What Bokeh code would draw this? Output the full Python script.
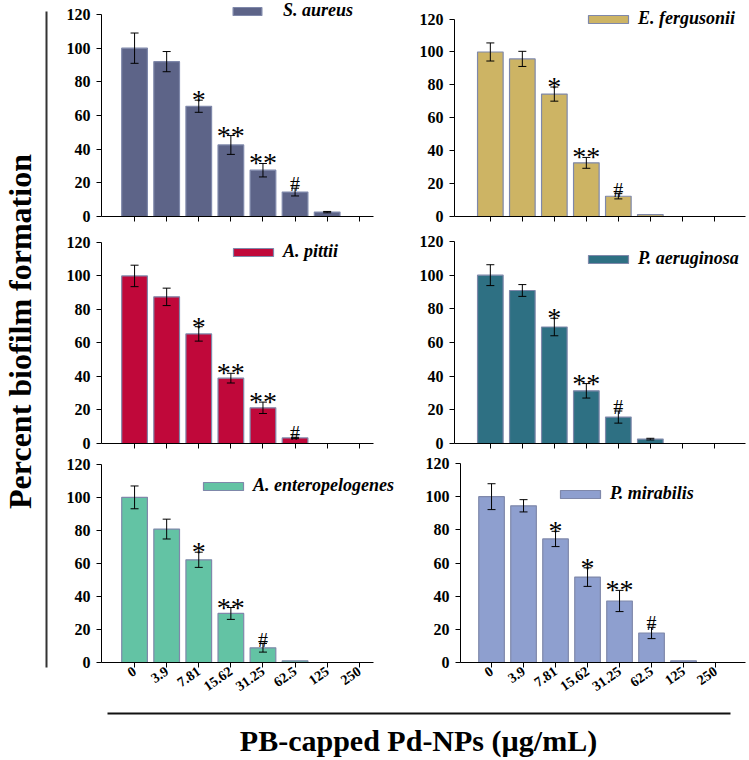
import math
from bokeh.plotting import figure
from bokeh.models import (ColumnDataSource, Range1d, FixedTicker, Whisker, TeeHead,
                          Legend, LegendItem)
from bokeh.layouts import row, column
from bokeh.embed import file_html
from bokeh.resources import INLINE
from bokeh.core.properties import value

# ---------------- data ----------------
concentrations = ["0", "3.9", "7.81", "15.62", "31.25", "62.5", "125", "250"]

s_aureus = [100, 92, 65.5, 42.5, 27.5, 14.5, 2.6, 0]
s_aureus_err = [9, 6, 3.6, 5.6, 4, 2.3, 0.4, 0]
s_aureus_sig = ["", "", "*", "**", "**", "#", "", ""]

e_fergusonii = [100, 95.8, 74.4, 32.6, 12.3, 1.2, 0, 0]
e_fergusonii_err = [5.5, 4.6, 4.3, 3.3, 1.6, 0, 0, 0]
e_fergusonii_sig = ["", "", "*", "**", "#", "", "", ""]

a_pittii = [100, 87.5, 65.4, 39.0, 21.3, 3.3, 0, 0]
a_pittii_err = [6.4, 5.2, 4.3, 2.9, 3.4, 0.4, 0, 0]
a_pittii_sig = ["", "", "*", "**", "**", "#", "", ""]

p_aeruginosa = [100, 90.9, 69.2, 31.3, 15.7, 2.6, 0, 0]
p_aeruginosa_err = [6.2, 3.5, 5.2, 4.3, 3.6, 0.5, 0, 0]
p_aeruginosa_sig = ["", "", "*", "**", "#", "", "", ""]

a_enteropelogenes = [100, 80.8, 62.2, 29.7, 8.9, 1.0, 0, 0]
a_enteropelogenes_err = [6.9, 6.0, 4.6, 3.6, 2.6, 0, 0, 0]
a_enteropelogenes_sig = ["", "", "*", "**", "#", "", "", ""]

p_mirabilis = [100, 94.5, 74.5, 51.5, 37.1, 17.8, 1.0, 0]
p_mirabilis_err = [7.8, 3.7, 4.6, 5.6, 6.4, 3.4, 0, 0]
p_mirabilis_sig = ["", "", "*", "*", "**", "#", "", ""]

y_ticks = [0, 20, 40, 60, 80, 100, 120]

SERIF = "Liberation Serif"
EDGE = "#7f88aa"


def panel(name, vals, errs, sigs, fill, width, height, bl, y0px, y120px, xstart,
          px_per_cat, xbound_end, show_labels, leg_loc, glyph_w, standoff):
    idx = list(range(len(concentrations)))
    frame_w = width - bl
    xend = xstart + frame_w / px_per_cat
    yend = 120.0 * y0px / (y0px - y120px)
    src = ColumnDataSource(dict(x=idx, top=vals))
    p = figure(width=width, height=height, x_range=Range1d(xstart, xend),
               y_range=Range1d(0, yend), toolbar_location=None, output_backend="svg",
               min_border_left=bl, min_border_right=0, min_border_top=0,
               min_border_bottom=height - y0px)
    p.outline_line_color = None
    p.grid.visible = False
    r = p.vbar(x="x", top="top", width=0.8, source=src, fill_color=fill,
               line_color=EDGE, line_width=1.2)

    ex = [i for i, e in zip(idx, errs) if e > 0]
    eu = [v + e for v, e in zip(vals, errs) if e > 0]
    el = [v - e for v, e in zip(vals, errs) if e > 0]
    esrc = ColumnDataSource(dict(x=ex, upper=eu, lower=el))
    w = Whisker(base="x", upper="upper", lower="lower", source=esrc,
                line_color="black", line_width=1, level="annotation",
                upper_head=TeeHead(size=8, line_color="black", line_width=1),
                lower_head=TeeHead(size=8, line_color="black", line_width=1))
    p.add_layout(w)

    sx, sy, st, ss = [], [], [], []
    for i, v, e, s in zip(idx, vals, errs, sigs):
        if s:
            sx.append(i)
            st.append(s)
            if s == "#":
                sy.append(v + e + 2.4)
                ss.append("20px")
            else:
                sy.append(v + e + 0.3)
                ss.append("28px")
    ssrc = ColumnDataSource(dict(x=sx, y=sy, text=st, size=ss))
    p.text(x="x", y="y", text="text", source=ssrc, text_align="center",
           text_baseline="alphabetic", text_font=value(SERIF), text_font_size="size",
           text_color="black")

    p.yaxis.ticker = FixedTicker(ticks=y_ticks)
    p.yaxis.bounds = (0, 120)
    p.yaxis.major_tick_out = 5
    p.yaxis.major_tick_in = 0
    p.yaxis.minor_tick_out = 0
    p.yaxis.minor_tick_in = 0
    p.yaxis.major_label_text_font = SERIF
    p.yaxis.major_label_text_font_style = "bold"
    p.yaxis.major_label_text_font_size = "16px"
    p.yaxis.major_label_text_color = "black"
    p.yaxis.major_label_standoff = 6
    p.yaxis.axis_line_color = "black"
    p.yaxis.major_tick_line_color = "black"

    p.xaxis.ticker = FixedTicker(ticks=idx)
    p.xaxis.bounds = (xstart, xbound_end)
    p.xaxis.major_tick_out = 5
    p.xaxis.major_tick_in = 0
    p.xaxis.minor_tick_out = 0
    p.xaxis.minor_tick_in = 0
    p.xaxis.axis_line_color = "black"
    p.xaxis.major_tick_line_color = "black"
    p.xaxis.major_label_text_font = SERIF
    p.xaxis.major_label_text_font_style = "bold"
    if show_labels:
        p.xaxis.major_label_overrides = {i: c for i, c in enumerate(concentrations)}
        p.xaxis.major_label_text_color = "black"
        p.xaxis.major_label_text_font_size = "14px"
        p.xaxis.major_label_orientation = 0.6
        p.xaxis.major_label_standoff = 2
    else:
        p.xaxis.major_label_overrides = {i: "" for i in idx}
        p.xaxis.major_label_text_color = None
        p.xaxis.major_label_text_font_size = "4px"
        p.xaxis.major_label_standoff = 0

    leg = Legend(items=[LegendItem(label=name, renderers=[r])], location=leg_loc,
                 glyph_width=glyph_w, glyph_height=10, label_standoff=standoff,
                 label_text_font=SERIF, label_text_font_style="bold italic",
                 label_text_font_size="18px", label_text_color="black",
                 background_fill_alpha=0, border_line_color=None,
                 padding=0, margin=0, spacing=0)
    p.add_layout(leg)
    return p


LW, RW = 360, 334
H1, H2, H3 = 232, 224, 250
p1 = panel("S. aureus", s_aureus, s_aureus_err, s_aureus_sig, "#5d6488",
           LW, H1, 47, 216, 14, -1.03, 32.1, 7.45, False, (128, 195), 36, 18)
p2 = panel("E. fergusonii", e_fergusonii, e_fergusonii_err, e_fergusonii_sig, "#cdb464",
           RW, H1, 40, 221, 19, -1.12, 32.0, 7.97, False, (129, 187), 50, 5)
p3 = panel("A. pittii", a_pittii, a_pittii_err, a_pittii_sig, "#c0083a",
           LW, H2, 47, 213, 10, -1.03, 32.1, 7.45, False, (127, 181), 50, 5)
p4 = panel("P. aeruginosa", p_aeruginosa, p_aeruginosa_err, p_aeruginosa_sig, "#2e7083",
           RW, H2, 40, 211, 9, -1.12, 32.0, 7.97, False, (129, 174), 50, 5)
p5 = panel("A. enteropelogenes", a_enteropelogenes, a_enteropelogenes_err,
           a_enteropelogenes_sig, "#63c3a4",
           LW, H3, 47, 210, 8, -1.03, 32.1, 7.45, True, (97, 166), 50, 5)
p6 = panel("P. mirabilis", p_mirabilis, p_mirabilis_err, p_mirabilis_sig, "#8e9fcf",
           RW, H3, 46, 206, 7, -0.97, 32.0, 7.94, True, (95, 158), 50, 5)


def blank(w, h):
    f = figure(width=w, height=h, x_range=Range1d(0, w), y_range=Range1d(h, 0),
               toolbar_location=None, output_backend="svg", min_border=0,
               x_axis_location=None, y_axis_location=None)
    f.outline_line_color = None
    f.grid.visible = False
    return f


left = blank(54, H1 + H2 + H3)
left.segment(x0=[46], y0=[11], x1=[46], y1=[667], line_color="#333333", line_width=2)
left.text(x=[19], y=[331], text=["Percent biofilm formation"], angle=math.pi / 2,
          text_align="center", text_baseline="middle", text_font=value(SERIF),
          text_font_style="bold", text_font_size="32px", text_color="black")

bottom = blank(LW + RW + 54, 54)
bottom.segment(x0=[107], y0=[7], x1=[730], y1=[7], line_color="#111111", line_width=2)
bottom.text(x=[418], y=[34], text=["PB-capped Pd-NPs (\u00b5g/mL)"],
            text_align="center", text_baseline="alphabetic", text_font=value(SERIF),
            text_font_style="bold", text_font_size="30px", text_color="black")

grid = column(row(p1, p2), row(p3, p4), row(p5, p6))
layout = column(row(left, grid), bottom)

open("out.html", "w").write(file_html(layout, INLINE))
